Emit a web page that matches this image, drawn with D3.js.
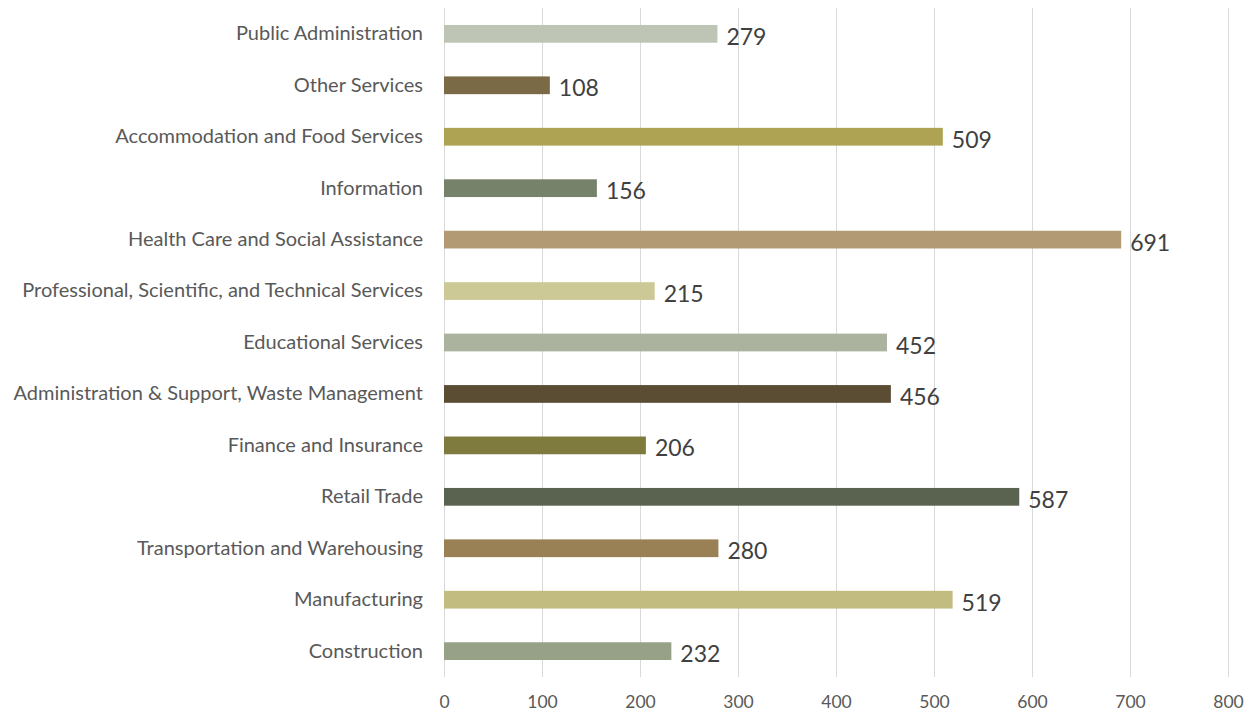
<!DOCTYPE html>
<html>
<head>
<meta charset="utf-8">
<script src="https://cdn.jsdelivr.net/npm/d3@7"></script>
<style>
  body { margin: 0; background: #fff; }
  text { font-family: Lato, "Open Sans", sans-serif; }
</style>
</head>
<body>
<div id="chart"></div>
<script>
let categories = [
    'Public Administration',
    'Other Services',
    'Accommodation and Food Services',
    'Information',
    'Health Care and Social Assistance',
    'Professional, Scientific, and Technical Services',
    'Educational Services',
    'Administration & Support, Waste Management',
    'Finance and Insurance',
    'Retail Trade',
    'Transportation and Warehousing',
    'Manufacturing',
    'Construction'
]
let values = [279, 108, 509, 156, 691, 215, 452, 456, 206, 587, 280, 519, 232]
let colors = [
    '#bfc5b5', '#7a6a45', '#ada352', '#76826a', '#b29b74', '#cdc997', '#abb39f',
    '#5b4d33', '#7f7a3d', '#5a634f', '#9a8055', '#c2bc80', '#96a188'
]
let ticks = [0, 100, 200, 300, 400, 500, 600, 700, 800]

let w = 1252
let h = 717
let m = {top: 8, right: 24, bottom: 40, left: 444}

let svg = d3.select('#chart').append('svg').attr('width', w).attr('height', h)
let g = svg.append('g').attr('transform', 'translate(' + [m.left, m.top].join(',') + ')')

let iw = w - m.left - m.right
let ih = h - m.top - m.bottom

let x = d3.scaleLinear().domain([0, 800]).range([0, iw])
let y = d3.scaleBand().domain(categories).range([0, ih]).paddingInner(0.655).paddingOuter(0.33)

// gridlines
g.selectAll('line.grid').data(ticks).enter().append('line')
    .attr('class', 'grid')
    .attr('x1', d => x(d) + 0.5).attr('x2', d => x(d) + 0.5)
    .attr('y1', 0).attr('y2', ih)
    .attr('stroke', '#d9d9d9').attr('stroke-width', 1)

// x axis labels
let xAxis = g.append('g').attr('transform', 'translate(0,' + ih + ')')
    .call(d3.axisBottom(x).tickValues(ticks).tickSize(0).tickPadding(19))
xAxis.select('.domain').remove()
xAxis.selectAll('text').attr('fill', '#595959').style('font-size', '17.5px')

// y axis labels
let yAxis = g.append('g').call(d3.axisLeft(y).tickSize(0).tickPadding(21))
yAxis.select('.domain').remove()
yAxis.selectAll('text').attr('fill', '#595959').style('font-size', '20px')

let data = categories.map((c, i) => ({cat: c, val: values[i], color: colors[i]}))

g.selectAll('rect.bar').data(data).enter().append('rect')
    .attr('class', 'bar')
    .attr('x', x(0))
    .attr('y', d => y(d.cat))
    .attr('width', d => x(d.val) - x(0))
    .attr('height', y.bandwidth())
    .attr('fill', d => d.color)

g.selectAll('text.val').data(data).enter().append('text')
    .attr('class', 'val')
    .attr('x', d => x(d.val) + 9)
    .attr('y', d => y(d.cat) + y.bandwidth() / 2 + 3)
    .attr('dy', '0.35em')
    .attr('fill', '#404040')
    .style('font-size', '23px')
    .text(d => d.val)
</script>
</body>
</html>
